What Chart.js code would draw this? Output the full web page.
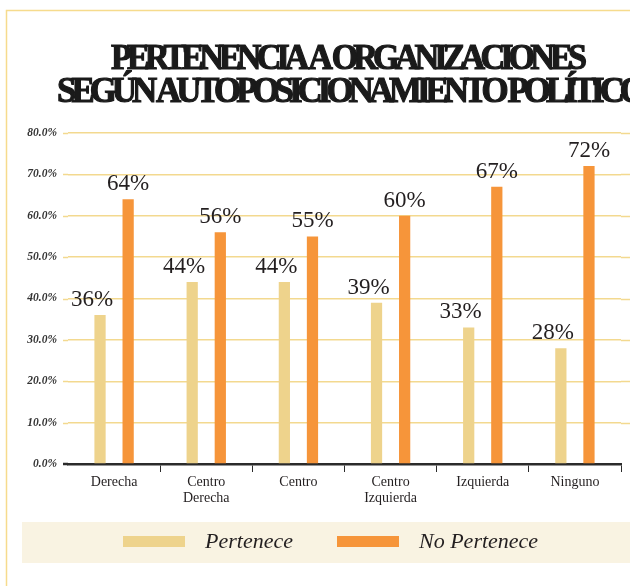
<!DOCTYPE html>
<html>
<head>
<meta charset="utf-8">
<script src="https://cdn.jsdelivr.net/npm/chart.js@4"></script>
<style>
    body { margin: 0; background: #fff; }
    #wrap { width: 630px; height: 586px; position: relative; }
</style>
</head>
<body>
<div id="wrap"><canvas id="chart" width="630" height="586"></canvas></div>
<script>
// Data
    const categories = ['Derecha', ['Centro', 'Derecha'], 'Centro', ['Centro', 'Izquierda'], 'Izquierda', 'Ninguno'];
    const pertenece = [36, 44, 44, 39, 33, 28];
    const noPertenece = [64, 56, 55, 60, 67, 72];
    const seriesLabels = ['Pertenece', 'No Pertenece'];
    const titleLines = ['PERTENENCIA A ORGANIZACIONES', 'SEGÚN AUTOPOSICIONAMIENTO POLÍTICO'];
    const yMax = 80;
    const yStep = 10;

    const ink = '#231F20';
    const serif = '"Liberation Serif", "Times New Roman", serif';

// Frame + title
    const titlePlugin = {
        id: 'titlePlugin',
        beforeDraw(chart) {
            const ctx = chart.ctx;
            ctx.save();
            ctx.strokeStyle = '#F6DB8D';
            ctx.lineWidth = 1.5;
            ctx.beginPath();
            ctx.moveTo(630, 10.5);
            ctx.lineTo(6.5, 10.5);
            ctx.lineTo(6.5, 586);
            ctx.stroke();

            // title lines, squeezed like the heavy condensed face
            const spans = [{x: 111, w: 471, y: 69}, {x: 57, w: 585, y: 102}];
            ctx.fillStyle = '#1A1A1A';
            ctx.strokeStyle = '#1A1A1A';
            ctx.lineWidth = 1.2;
            ctx.font = 'bold 35px ' + serif;
            ctx.letterSpacing = '-5px';
            ctx.textBaseline = 'alphabetic';
            ctx.textAlign = 'left';
            titleLines.forEach((line, i) => {
                const s = spans[i];
                const w = ctx.measureText(line).width;
                ctx.save();
                ctx.translate(s.x, s.y);
                ctx.scale(s.w / w, 1);
                ctx.fillText(line, 0, 0);
                ctx.strokeText(line, 0, 0);
                ctx.restore();
            });
            ctx.restore();
        },
        // gridlines and base line run a bit past the plot area
        beforeDatasetsDraw(chart) {
            const ctx = chart.ctx;
            const y = chart.scales.y;
            const area = chart.chartArea;
            ctx.save();
            ctx.strokeStyle = '#F3D98F';
            ctx.lineWidth = 1.5;
            y.ticks.forEach(t => {
                if (t.value === 0) return;
                const py = Math.round(y.getPixelForValue(t.value)) + 0.5;
                ctx.beginPath();
                ctx.moveTo(63, py);
                ctx.lineTo(area.left, py);
                ctx.moveTo(area.right, py);
                ctx.lineTo(630, py);
                ctx.stroke();
            });
            const base = y.getPixelForValue(0);
            ctx.strokeStyle = '#2B2B2B';
            ctx.lineWidth = 2.5;
            ctx.beginPath();
            ctx.moveTo(63, base);
            ctx.lineTo(area.left, base);
            ctx.stroke();
            ctx.restore();
        }
    };

// Value labels above bars
    const valueLabels = {
        id: 'valueLabels',
        afterDatasetsDraw(chart) {
            const ctx = chart.ctx;
            ctx.save();
            ctx.font = '23px ' + serif;
            ctx.fillStyle = ink;
            ctx.textAlign = 'center';
            ctx.textBaseline = 'alphabetic';
            chart.data.datasets.forEach((ds, di) => {
                const meta = chart.getDatasetMeta(di);
                meta.data.forEach((bar, i) => {
                    const dx = di === 0 ? -8 : 0;
                    ctx.fillText(ds.data[i] + '%', bar.x + dx, bar.y - 9);
                });
            });
            ctx.restore();
        }
    };

// Legend in a beige band
    const legendBand = {
        id: 'legendBand',
        afterDraw(chart) {
            const ctx = chart.ctx;
            ctx.save();
            ctx.fillStyle = '#F9F3E2';
            ctx.fillRect(22, 522, 608, 41);
            ctx.font = 'italic 22px ' + serif;
            ctx.textBaseline = 'alphabetic';
            ctx.textAlign = 'left';
            chart.data.datasets.forEach((ds, i) => {
                const x = 123 + i * 214;
                ctx.fillStyle = ds.backgroundColor;
                ctx.fillRect(x, 536, 62, 11);
                ctx.fillStyle = ink;
                ctx.fillText(ds.label, x + 82, 548);
            });
            ctx.restore();
        }
    };

// setup
    const data = {
        labels: categories,
        datasets: [{
            label: seriesLabels[0],
            data: pertenece,
            backgroundColor: '#EED38C',
            barPercentage: 0.4,
            categoryPercentage: 0.61,
        }, {
            label: seriesLabels[1],
            data: noPertenece,
            backgroundColor: '#F6953A',
            barPercentage: 0.4,
            categoryPercentage: 0.61,
        }]
    };

// config
    const config = {
        type: 'bar',
        data,
        plugins: [titlePlugin, valueLabels, legendBand],
        options: {
            responsive: false,
            animation: false,
            layout: {
                padding: { top: 133, right: 9, bottom: 0, left: 0 }
            },
            plugins: {
                legend: { display: false },
                tooltip: { enabled: false },
            },
            scales: {
                x: {
                    afterFit: s => { s.height = 122; },
                    border: { display: true, color: '#2B2B2B', width: 2.5 },
                    grid: {
                        drawOnChartArea: false,
                        tickLength: 8,
                        tickWidth: 1,
                        tickColor: ctx => (ctx.index === 0 || ctx.index >= categories.length) ? 'rgba(0,0,0,0)' : '#2B2B2B',
                    },
                    ticks: {
                        color: ink,
                        padding: 3,
                        font: { family: serif, size: 14, lineHeight: 1.1 },
                    },
                },
                y: {
                    min: 0,
                    max: yMax,
                    afterFit: s => { s.width = 68; },
                    border: { display: false },
                    grid: {
                        color: '#F3D98F',
                        lineWidth: 1.5,
                        drawTicks: false,
                    },
                    ticks: {
                        stepSize: yStep,
                        padding: 11,
                        color: '#333333',
                        font: { family: serif, size: 11.5, style: 'italic', weight: 'bold' },
                        callback: v => v.toFixed(1) + '%',
                    },
                },
            },
        }
    };

// render init block
    const myChart = new Chart(document.getElementById('chart'), config);
</script>
</body>
</html>
